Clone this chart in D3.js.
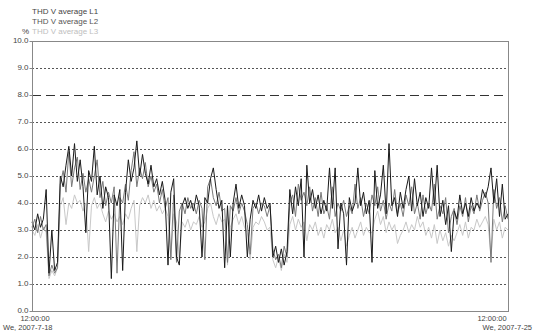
<!DOCTYPE html>
<html>
<head>
<meta charset="utf-8">
<script src="https://cdn.jsdelivr.net/npm/d3@7"></script>
<style>
  body { margin: 0; background: #fff; }
  svg { display: block; font-family: "Liberation Sans", Arial, sans-serif; }
</style>
</head>
<body>
<svg id="chart" width="534" height="331"></svg>
<script>
// hourly averages, Wed 2007-07-18 12:00 -> Wed 2007-07-25 12:00
const seriesNames = ['THD V average L1', 'THD V average L2', 'THD V average L3'];
const seriesColors = ['#1a1a1a', '#7a7a7a', '#c8c8c8'];
const legendColors = ['#444', '#555', '#c0c0c0'];

const l1 = [
  3.3,3.0,3.6,3.1,3.4,4.5,1.4,3.0,1.5,1.8,
  5.0,4.6,5.4,6.1,5.0,6.2,4.8,5.6,4.6,2.9,
  5.2,4.8,6.1,4.3,5.0,3.8,4.6,4.2,1.2,4.3,
  3.9,4.5,1.5,4.4,5.6,4.8,5.3,6.3,5.0,5.8,
  5.1,4.7,5.4,4.6,4.9,4.3,4.8,4.1,1.7,4.4,
  4.9,2.0,1.7,3.9,4.2,3.8,4.1,3.7,4.3,3.9,
  2.0,4.2,4.0,4.9,5.3,4.5,3.8,4.1,1.6,3.9,
  2.0,4.0,4.7,3.8,4.3,3.9,2.0,3.4,4.1,3.8,
  4.3,3.7,4.2,3.8,4.0,2.0,2.4,1.8,2.3,1.7,
  2.2,4.5,3.6,4.6,3.9,4.9,2.0,5.4,4.0,4.5,
  3.8,4.3,3.6,4.1,3.7,5.3,3.8,5.3,2.3,4.0,
  3.6,1.7,4.2,3.7,4.0,5.3,3.9,4.4,3.6,4.1,
  1.8,5.2,3.8,4.3,5.4,3.6,6.2,3.9,4.2,3.5,
  4.4,3.8,4.5,5.0,3.7,4.9,3.9,4.4,3.5,4.2,
  3.8,5.3,3.9,5.4,3.5,4.1,3.2,3.9,2.2,3.7,
  3.4,4.3,3.6,4.0,3.5,4.2,3.7,4.0,3.8,4.5,
  4.2,4.6,5.3,4.0,4.9,3.5,4.7,3.4,3.6
];
const l2 = [
  3.1,3.4,2.9,3.5,3.0,3.2,1.3,1.7,1.4,1.6,
  4.7,5.2,4.4,5.9,4.6,5.3,5.7,4.5,5.1,4.4,
  4.9,4.4,5.0,5.6,4.2,4.8,3.9,4.4,4.0,4.6,
  1.4,4.2,4.0,4.7,4.1,5.2,5.9,4.6,5.3,4.9,
  5.5,4.6,5.0,4.4,4.7,4.0,4.5,3.8,4.2,1.9,
  4.3,1.8,3.7,4.0,3.6,4.2,3.8,4.0,3.6,4.1,
  3.8,1.9,4.6,4.9,4.2,3.9,4.4,3.7,3.8,1.8,
  3.9,3.7,4.2,3.6,4.0,3.7,3.2,2.1,3.8,4.0,
  3.6,4.0,3.9,3.5,3.9,2.3,1.9,2.1,1.6,2.4,
  2.0,4.0,4.3,3.5,4.7,4.1,4.4,3.9,4.6,3.7,
  4.2,3.5,4.4,3.6,3.9,3.4,4.6,3.5,4.0,3.7,
  4.1,3.5,3.9,3.6,4.7,3.8,4.2,3.5,4.0,3.6,
  4.3,3.9,4.6,3.7,4.1,3.4,4.0,3.7,4.5,3.6,
  4.0,3.5,4.3,3.9,4.6,3.6,4.0,3.4,4.3,3.6,
  4.0,3.7,4.7,3.4,3.9,3.6,4.2,2.9,3.5,3.8,
  3.2,3.9,3.5,4.2,3.3,3.9,3.6,4.3,3.7,4.1,
  4.4,4.0,1.8,4.5,3.8,4.2,3.3,3.9,3.4
];
const l3 = [
  3.0,2.8,3.2,2.7,3.1,2.9,1.2,1.5,1.3,1.6,
  3.9,4.2,3.2,4.0,3.8,4.3,4.0,4.1,3.7,4.0,
  2.2,3.9,4.2,3.8,4.0,3.6,3.3,3.7,3.4,3.6,
  3.3,3.5,3.2,3.6,3.4,3.8,4.1,2.2,3.9,4.2,
  4.0,4.3,3.8,4.1,3.7,3.9,3.6,3.8,3.5,2.0,
  3.6,3.3,1.9,3.3,3.1,3.4,3.0,3.3,3.2,3.5,
  3.1,3.3,3.8,4.0,3.5,3.2,3.6,3.3,3.4,1.7,
  3.1,3.4,3.6,3.2,3.5,3.1,2.9,1.9,3.1,3.3,
  3.2,3.5,3.3,3.0,3.1,1.9,1.6,2.0,1.5,2.1,
  1.8,3.2,3.5,3.0,3.4,3.1,3.3,2.6,3.2,3.0,
  3.3,2.8,3.1,2.7,3.2,3.0,3.4,2.9,3.1,2.6,
  3.0,2.4,2.8,3.1,2.7,3.0,3.3,2.8,3.1,2.9,
  2.9,3.4,3.7,3.2,3.5,2.9,3.3,3.0,3.2,2.5,
  2.8,3.0,3.3,2.9,3.2,3.0,3.5,3.1,3.3,2.8,
  3.1,2.7,3.2,2.5,3.0,2.6,2.9,2.4,2.8,2.6,
  2.9,3.2,2.8,3.3,2.7,3.1,3.0,3.4,3.1,3.3,
  3.5,3.2,2.0,3.4,3.0,3.3,2.7,3.1,3.0
];
const yTicks = [0, 1, 2, 3, 4, 5, 6, 7, 8, 9, 10];
const limitValue = 8;
const xLabels = [
  { time: '12:00:00', day: 'We, 2007-7-18' },
  { time: '12:00:00', day: 'We, 2007-7-25' }
];

const svg = d3.select('#chart');
const margin = { left: 32, right: 26, top: 41, bottom: 20 };
const width = 534, height = 331;

const start = new Date(2007, 6, 18, 12);
const end = new Date(2007, 6, 25, 12);
const x = d3.scaleTime().domain([start, end]).range([margin.left, width - margin.right]);
const y = d3.scaleLinear().domain([0, 10]).range([height - margin.bottom, margin.top]);

// grid
const grid = svg.append('g');
grid.selectAll('line')
  .data(yTicks.filter(v => v > 0 && v < 10 && v !== limitValue))
  .enter().append('line')
  .attr('x1', margin.left).attr('x2', width - margin.right)
  .attr('y1', d => Math.round(y(d)) + 0.5).attr('y2', d => Math.round(y(d)) + 0.5)
  .attr('stroke', '#555').attr('stroke-width', 1).attr('stroke-dasharray', '2,2');

grid.append('line')
  .attr('x1', margin.left).attr('x2', width - margin.right)
  .attr('y1', Math.round(y(limitValue)) + 0.5).attr('y2', Math.round(y(limitValue)) + 0.5)
  .attr('stroke', '#333').attr('stroke-width', 1).attr('stroke-dasharray', '9,5');

// series, light first so the dark one sits on top
const series = [l3, l2, l1];
const colors = [seriesColors[2], seriesColors[1], seriesColors[0]];
const line = d3.line()
  .x((d, i) => x(d3.timeHour.offset(start, i)))
  .y(d => y(d));

series.forEach((s, k) => {
  svg.append('path')
    .datum(s)
    .attr('fill', 'none')
    .attr('stroke', colors[k])
    .attr('stroke-width', 1)
    .attr('d', line);
});

// frame
const frame = svg.append('g').attr('stroke', '#888').attr('fill', 'none');
frame.append('rect')
  .attr('x', margin.left + 0.5).attr('y', margin.top + 0.5)
  .attr('width', width - margin.right - margin.left)
  .attr('height', height - margin.bottom - margin.top);

// y axis labels + small ticks
const yAxis = svg.append('g')
  .attr('transform', `translate(${margin.left + 0.5},0)`)
  .call(d3.axisLeft(y).tickValues(yTicks).tickFormat(d3.format('.1f')).tickSize(3).tickPadding(1));
yAxis.select('.domain').remove();
yAxis.selectAll('line').attr('stroke', '#888');
yAxis.selectAll('text').attr('fill', '#444').attr('dy', '0.15em').style('font-size', '8px')
  .style('font-family', '"Liberation Sans", Arial, sans-serif');

// x labels
const xl = svg.append('g').attr('fill', '#444').style('font-size', '7.5px');
xl.append('text').attr('x', 35).attr('y', 321.4).attr('text-anchor', 'middle').text(xLabels[0].time);
xl.append('text').attr('x', 3).attr('y', 329.6).attr('text-anchor', 'start').text(xLabels[0].day);
xl.append('text').attr('x', 492).attr('y', 321.4).attr('text-anchor', 'middle').text(xLabels[1].time);
xl.append('text').attr('x', 532).attr('y', 329.6).attr('text-anchor', 'end').text(xLabels[1].day);

// legend
const legend = svg.append('g').style('font-size', '8px');
seriesNames.forEach((name, i) => {
  legend.append('text')
    .attr('x', 32).attr('y', 14 + i * 10)
    .attr('fill', legendColors[i])
    .text(name);
});
legend.append('text').attr('x', 29).attr('y', 34).attr('text-anchor', 'end')
  .attr('fill', '#444').text('%');
</script>
</body>
</html>
